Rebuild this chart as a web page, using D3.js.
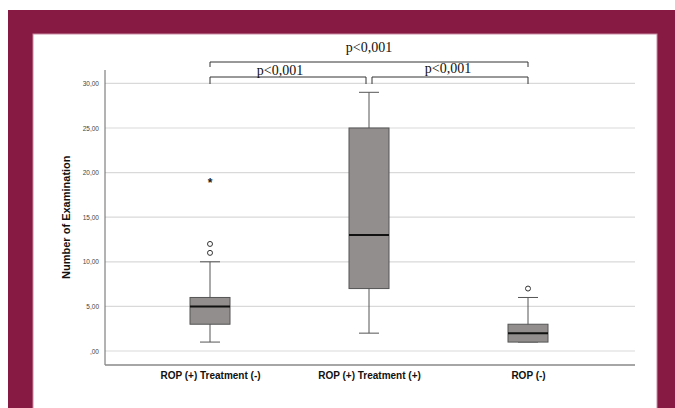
<!DOCTYPE html>
<html>
<head>
<meta charset="utf-8">
<script src="https://cdn.jsdelivr.net/npm/d3@7"></script>
<style>
  body { margin: 0; background: #fff; }
</style>
</head>
<body>
<div id="chart"></div>
<script>
var groups = ["ROP (+) Treatment (-)", "ROP (+) Treatment (+)", "ROP (-)"];
var mins = [1, 2, 1];
var q1s = [3, 7, 1];
var medians = [5, 13, 2];
var q3s = [6, 25, 3];
var maxs = [10, 29, 6];
var outliers = [[11, 12], [], [7]];
var extremes = [[19], [], []];
var yTicks = [0, 5, 10, 15, 20, 25, 30];
var tickLabels = [",00", "5,00", "10,00", "15,00", "20,00", "25,00", "30,00"];
var pLabels = ["p<0,001", "p<0,001", "p<0,001"];

var W = 675, H = 408;
var svg = d3.select("#chart").append("svg")
  .attr("width", W).attr("height", H);

// frame
svg.append("rect").attr("x", 0).attr("y", 0).attr("width", W).attr("height", H).attr("fill", "#fff");
svg.append("rect").attr("x", 8).attr("y", 10).attr("width", W - 8).attr("height", H - 10).attr("fill", "#861a42");
svg.append("rect").attr("x", 33).attr("y", 34).attr("width", 624).attr("height", H)
  .attr("fill", "#fff").attr("stroke", "#c98aa2").attr("stroke-width", 1);

var x = d3.scalePoint().domain(groups).range([210, 528]);
var y = d3.scaleLinear().domain([-1.57, 31.5]).range([365, 70]);

// gridlines
svg.append("g").selectAll("line").data(yTicks).enter().append("line")
  .attr("x1", 105).attr("x2", 635)
  .attr("y1", d => y(d)).attr("y2", d => y(d))
  .attr("stroke", "#d9d9d9").attr("stroke-width", 1.2);

// axes
var yAxis = svg.append("g").attr("transform", "translate(105,0)")
  .call(d3.axisLeft(y).tickValues(yTicks).tickSize(0).tickPadding(6)
    .tickFormat((d, i) => tickLabels[i]));
yAxis.select(".domain").remove();
yAxis.selectAll("text").attr("font-family", "Arial, 'Liberation Sans', sans-serif")
  .attr("font-size", 6.5).attr("fill", "#444");

svg.append("line").attr("x1", 105).attr("x2", 105).attr("y1", 70).attr("y2", 365)
  .attr("stroke", "#666").attr("stroke-width", 1);
svg.append("line").attr("x1", 105).attr("x2", 635).attr("y1", 365).attr("y2", 365)
  .attr("stroke", "#888").attr("stroke-width", 1.5);

var xAxis = svg.append("g").attr("transform", "translate(0,365)")
  .call(d3.axisBottom(x).tickSize(0).tickPadding(7));
xAxis.select(".domain").remove();
xAxis.selectAll("text").attr("font-family", "Arial, 'Liberation Sans', sans-serif")
  .attr("font-size", 10).attr("font-weight", "bold").attr("fill", "#111");

svg.append("text")
  .attr("transform", "translate(70," + y(15) + ") rotate(-90)")
  .attr("text-anchor", "middle")
  .attr("font-family", "Arial, 'Liberation Sans', sans-serif")
  .attr("font-size", 11).attr("font-weight", "bold").attr("fill", "#111")
  .text("Number of Examination");

// boxes
var bw = 40, cw = 20;
var g = svg.append("g").selectAll("g").data(groups).enter().append("g");
g.append("line")
  .attr("x1", d => x(d)).attr("x2", d => x(d))
  .attr("y1", (d, i) => y(mins[i])).attr("y2", (d, i) => y(maxs[i]))
  .attr("stroke", "#555").attr("stroke-width", 1);
g.append("line")
  .attr("x1", d => x(d) - cw / 2).attr("x2", d => x(d) + cw / 2)
  .attr("y1", (d, i) => y(maxs[i])).attr("y2", (d, i) => y(maxs[i]))
  .attr("stroke", "#555");
g.append("line")
  .attr("x1", d => x(d) - cw / 2).attr("x2", d => x(d) + cw / 2)
  .attr("y1", (d, i) => y(mins[i])).attr("y2", (d, i) => y(mins[i]))
  .attr("stroke", "#555");
g.append("rect")
  .attr("x", d => x(d) - bw / 2).attr("width", bw)
  .attr("y", (d, i) => y(q3s[i])).attr("height", (d, i) => y(q1s[i]) - y(q3s[i]))
  .attr("fill", "#918e8d").attr("stroke", "#555").attr("stroke-width", 1);
g.append("line")
  .attr("x1", d => x(d) - bw / 2).attr("x2", d => x(d) + bw / 2)
  .attr("y1", (d, i) => y(medians[i])).attr("y2", (d, i) => y(medians[i]))
  .attr("stroke", "#111").attr("stroke-width", 2);
g.each(function (d, i) {
  var sel = d3.select(this);
  sel.selectAll("circle").data(outliers[i]).enter().append("circle")
    .attr("cx", x(d)).attr("cy", v => y(v)).attr("r", 2.5)
    .attr("fill", "#fff").attr("stroke", "#333").attr("stroke-width", 1);
  sel.selectAll("text.ext").data(extremes[i]).enter().append("text")
    .attr("class", "ext")
    .attr("x", x(d)).attr("y", v => y(v) + 5)
    .attr("text-anchor", "middle")
    .attr("font-family", "Arial, sans-serif").attr("font-size", 12).attr("font-weight", "bold")
    .attr("fill", "#222").text("*");
});

// significance brackets
function bracket(x1, x2, yl, tick) {
  svg.append("path")
    .attr("d", "M" + x1 + "," + (yl + tick) + "V" + yl + "H" + x2 + "V" + (yl + tick))
    .attr("fill", "none").attr("stroke", "#333").attr("stroke-width", 1);
}
var g1 = x(groups[0]), g2 = x(groups[1]), g3 = x(groups[2]);
bracket(g1, g2 - 3, 77, 7);
bracket(g2 + 3, g3, 77, 7);
bracket(g1, g3, 62, 5);

var pf = "'Liberation Serif', 'Times New Roman', serif";
svg.append("text").attr("x", (g1 + g3) / 2).attr("y", 52).attr("text-anchor", "middle")
  .attr("font-family", pf).attr("font-size", 14).attr("fill", "#111").text(pLabels[0]);
svg.append("text").attr("x", 280).attr("y", 75).attr("text-anchor", "middle")
  .attr("font-family", pf).attr("font-size", 14).attr("fill", "#111").text(pLabels[1]);
svg.append("text").attr("x", 448).attr("y", 73).attr("text-anchor", "middle")
  .attr("font-family", pf).attr("font-size", 14).attr("fill", "#111").text(pLabels[2]);
</script>
</body>
</html>
